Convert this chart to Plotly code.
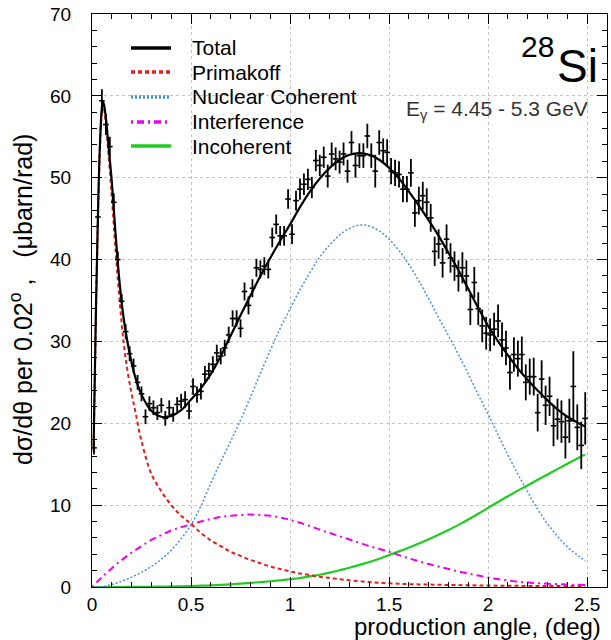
import plotly.graph_objects as go

# ---------------- data ----------------
bin_centers = [0.01, 0.03, 0.05, 0.07, 0.09, 0.11, 0.13, 0.15, 0.17, 0.19,
               0.21, 0.23, 0.25, 0.27, 0.29, 0.31, 0.33, 0.35, 0.37, 0.39,
               0.41, 0.43, 0.45, 0.47, 0.49, 0.51, 0.53, 0.55, 0.57, 0.59,
               0.61, 0.63, 0.65, 0.67, 0.69, 0.71, 0.73, 0.75, 0.77, 0.79,
               0.81, 0.83, 0.85, 0.87, 0.89, 0.91, 0.93, 0.95, 0.97, 0.99,
               1.01, 1.03, 1.05, 1.07, 1.09, 1.11, 1.13, 1.15, 1.17, 1.19,
               1.21, 1.23, 1.25, 1.27, 1.29, 1.31, 1.33, 1.35, 1.37, 1.39,
               1.41, 1.43, 1.45, 1.47, 1.49, 1.51, 1.53, 1.55, 1.57, 1.59,
               1.61, 1.63, 1.65, 1.67, 1.69, 1.71, 1.73, 1.75, 1.77, 1.79,
               1.81, 1.83, 1.85, 1.87, 1.89, 1.91, 1.93, 1.95, 1.97, 1.99,
               2.01, 2.03, 2.05, 2.07, 2.09, 2.11, 2.13, 2.15, 2.17, 2.19,
               2.21, 2.23, 2.25, 2.27, 2.29, 2.31, 2.33, 2.35, 2.37, 2.39,
               2.41, 2.43, 2.45, 2.47, 2.49]

measured = [17.0, 45.2, 59.4, 56.5, 53.8, 47.0, 40.0, 34.9, 31.2, 28.5,
            27.0, 25.0, 23.6, 20.8, 22.4, 21.9, 21.3, 22.2, 20.6, 21.9,
            21.1, 22.3, 22.7, 22.9, 21.5, 24.5, 23.5, 23.9, 26.0, 26.4,
            27.2, 28.6, 28.2, 29.2, 30.8, 32.8, 32.8, 31.6, 36.1, 34.4,
            36.5, 39.0, 38.8, 39.2, 38.8, 42.7, 44.3, 42.9, 42.9, 47.4,
            43.1, 47.2, 48.6, 49.2, 49.8, 48.8, 52.1, 51.5, 52.5, 50.2,
            52.9, 52.3, 51.9, 52.9, 50.8, 54.3, 51.5, 52.7, 52.7, 55.1,
            52.7, 50.8, 54.3, 53.3, 53.1, 50.8, 50.6, 50.4, 48.6, 48.6,
            50.6, 45.7, 47.2, 47.8, 47.0, 45.1, 41.0, 41.9, 39.6, 42.5,
            40.2, 39.2, 38.0, 39.0, 38.0, 33.9, 37.2, 34.0, 31.9, 31.0,
            30.8, 31.5, 32.5, 30.2, 29.2, 26.2, 28.4, 27.9, 28.4, 25.0,
            25.7, 25.7, 21.3, 25.4, 22.2, 23.3, 19.7, 20.5, 20.2, 18.3,
            20.3, 24.5, 19.5, 17.3, 20.6]

measured_err = [0.8, 1.2, 1.4, 1.3, 1.2, 1.1, 1.0, 0.9, 0.9, 0.9,
                0.9, 0.9, 0.9, 0.9, 0.9, 0.9, 0.9, 0.9, 0.9, 0.9,
                0.9, 0.9, 0.9, 1.0, 1.0, 1.0, 1.0, 1.0, 1.0, 1.0,
                1.0, 1.0, 1.0, 1.0, 1.0, 1.0, 1.0, 1.1, 1.1, 1.1,
                1.1, 1.1, 1.1, 1.1, 1.1, 1.2, 1.2, 1.2, 1.2, 1.2,
                1.2, 1.2, 1.3, 1.3, 1.3, 1.3, 1.3, 1.3, 1.3, 1.4,
                1.4, 1.4, 1.4, 1.4, 1.4, 1.4, 1.5, 1.5, 1.5, 1.5,
                1.5, 2.0, 1.5, 1.5, 1.6, 1.6, 1.6, 1.6, 1.6, 1.6,
                1.7, 1.7, 1.7, 1.7, 1.7, 1.7, 1.8, 1.8, 1.8, 1.8,
                1.8, 1.8, 1.9, 1.9, 1.9, 1.9, 1.9, 2.0, 2.0, 2.0,
                2.0, 2.0, 2.0, 2.1, 2.1, 2.1, 2.1, 2.2, 2.2, 2.2,
                2.2, 2.3, 2.3, 2.3, 2.4, 2.4, 2.5, 2.5, 2.6, 2.6,
                2.7, 4.3, 2.8, 2.9, 3.2]

# fit curves (Total and Primakoff share a finer grid near the peak)
peak_grid = [0.008, 0.02, 0.03, 0.04, 0.05, 0.055, 0.06, 0.07, 0.08, 0.09,
             0.10, 0.12, 0.14, 0.16, 0.18, 0.20, 0.22, 0.25, 0.30, 0.35,
             0.40, 0.45, 0.50, 0.55, 0.60, 0.65, 0.70, 0.75, 0.80, 0.85,
             0.90, 0.95, 1.00, 1.05, 1.10, 1.15, 1.20, 1.25, 1.30, 1.35,
             1.40, 1.45, 1.50, 1.55, 1.60, 1.65, 1.70, 1.75, 1.80, 1.85,
             1.90, 1.95, 2.00, 2.05, 2.10, 2.15, 2.20, 2.25, 2.30, 2.35,
             2.40, 2.45, 2.49]

total_fit = [17.0, 34.0, 45.5, 54.0, 58.6, 59.3, 59.0, 57.3, 54.8, 52.2,
             49.5, 42.8, 37.0, 32.8, 29.8, 27.4, 25.5, 23.5, 21.5, 20.8,
             20.9, 21.6, 22.9, 24.3, 26.0, 28.2, 30.7, 33.2, 35.6, 38.0,
             40.2, 42.3, 44.3, 46.4, 48.3, 49.9, 51.2, 52.2, 52.8, 53.0,
             52.8, 52.2, 51.2, 49.9, 48.3, 46.6, 44.8, 42.9, 40.8, 38.7,
             36.4, 34.1, 31.9, 30.0, 28.3, 26.7, 25.3, 24.0, 22.8, 21.7,
             20.8, 20.1, 19.6]

primakoff = [16.5, 33.5, 45.0, 53.5, 58.2, 58.8, 58.5, 56.5, 53.8, 50.8,
             47.6, 40.8, 34.8, 29.8, 26.3, 23.6, 21.3, 17.8, 13.8, 11.7,
             10.0, 8.7, 7.7, 6.6, 5.7, 5.0, 4.3, 3.8, 3.3, 2.9,
             2.5, 2.2, 1.9, 1.65, 1.45, 1.25, 1.1, 0.95, 0.82, 0.7,
             0.6, 0.52, 0.45, 0.4, 0.35, 0.32, 0.3, 0.27, 0.25, 0.23,
             0.21, 0.19, 0.18, 0.16, 0.15, 0.14, 0.13, 0.12, 0.12, 0.11,
             0.1, 0.1, 0.1]

comp_grid = [0.00, 0.05, 0.10, 0.15, 0.20, 0.25, 0.30, 0.35, 0.40, 0.45,
             0.50, 0.55, 0.60, 0.65, 0.70, 0.75, 0.80, 0.85, 0.90, 0.95,
             1.00, 1.05, 1.10, 1.15, 1.20, 1.25, 1.30, 1.35, 1.40, 1.45,
             1.50, 1.55, 1.60, 1.65, 1.70, 1.75, 1.80, 1.85, 1.90, 1.95,
             2.00, 2.05, 2.10, 2.15, 2.20, 2.25, 2.30, 2.35, 2.40, 2.45,
             2.49]

nuclear_coherent = [0.0, 0.05, 0.3, 0.7, 1.2, 1.8, 2.5, 3.4, 4.5, 5.9,
                    7.6, 9.9, 12.7, 15.3, 17.8, 20.4, 23.2, 26.1, 28.9, 31.6,
                    34.0, 36.3, 38.4, 40.3, 41.8, 43.0, 43.8, 44.2, 44.1, 43.5,
                    42.5, 41.1, 39.4, 37.4, 35.2, 32.9, 30.7, 28.4, 26.0, 23.5,
                    21.1, 18.6, 16.1, 13.8, 11.6, 9.5, 7.7, 6.2, 4.9, 3.9,
                    3.2]

interference = [0.0, 1.2, 2.3, 3.3, 4.2, 5.0, 5.75, 6.35, 6.9, 7.3,
                7.65, 8.0, 8.3, 8.55, 8.7, 8.8, 8.85, 8.8, 8.7, 8.5,
                8.2, 7.85, 7.45, 7.0, 6.6, 6.2, 5.8, 5.4, 5.0, 4.65,
                4.3, 3.9, 3.5, 3.15, 2.8, 2.5, 2.2, 1.9, 1.65, 1.4,
                1.15, 0.95, 0.8, 0.65, 0.55, 0.47, 0.4, 0.35, 0.3, 0.27,
                0.25]

incoherent = [0.0, 0.0, 0.0, 0.0, 0.01, 0.02, 0.03, 0.05, 0.07, 0.09,
              0.12, 0.16, 0.2, 0.26, 0.33, 0.41, 0.5, 0.6, 0.7, 0.82,
              0.95, 1.1, 1.3, 1.5, 1.75, 2.05, 2.35, 2.7, 3.05, 3.45,
              3.9, 4.35, 4.82, 5.32, 5.84, 6.39, 6.97, 7.59, 8.25, 8.95,
              9.67, 10.39, 11.09, 11.77, 12.43, 13.1, 13.75, 14.4, 15.05, 15.7,
              16.2]

x_tick_vals = [0, 0.5, 1, 1.5, 2, 2.5]
x_tick_text = ["0", "0.5", "1", "1.5", "2", "2.5"]
y_tick_vals = [0, 10, 20, 30, 40, 50, 60, 70]
y_tick_text = ["0", "10", "20", "30", "40", "50", "60", "70"]

legend_names = ["Total", "Primakoff", "Nuclear Coherent", "Interference", "Incoherent"]

# ---------------- styling ----------------
FONT = "Liberation Sans, Arial, Helvetica, sans-serif"
W, H = 611, 640
ML, MR, MT, MB = 92, 4, 14, 53
PW, PH = W - ML - MR, H - MT - MB

def px(xp):
    return (xp - ML) / PW

def py(yp):
    return (H - MB - yp) / PH

C_TOTAL = "#000000"
C_PRIM = "#e0211b"
C_NUC = "#4a90e2"
C_INT = "#ee00ee"
C_INC = "#1fcc1f"

styles = {
    "Total": dict(color=C_TOTAL, width=2.2, dash="solid"),
    "Primakoff": dict(color=C_PRIM, width=2.0, dash="4px,3px"),
    "Nuclear Coherent": dict(color=C_NUC, width=1.5, dash="2px,2px"),
    "Interference": dict(color=C_INT, width=2.0, dash="2px,4px,7px,4px"),
    "Incoherent": dict(color=C_INC, width=2.2, dash="solid"),
}

fig = go.Figure()

fig.add_trace(go.Scatter(x=comp_grid, y=incoherent, mode="lines", line_shape="spline",
                         line=styles["Incoherent"], name="Incoherent", showlegend=False,
                         hoverinfo="skip"))
fig.add_trace(go.Scatter(x=comp_grid, y=interference, mode="lines", line_shape="spline",
                         line=styles["Interference"], name="Interference", showlegend=False,
                         hoverinfo="skip"))
fig.add_trace(go.Scatter(x=comp_grid, y=nuclear_coherent, mode="lines", line_shape="spline",
                         line=styles["Nuclear Coherent"], name="Nuclear Coherent",
                         showlegend=False, hoverinfo="skip"))
fig.add_trace(go.Scatter(x=peak_grid, y=primakoff, mode="lines", line_shape="spline",
                         line=styles["Primakoff"], name="Primakoff", showlegend=False,
                         hoverinfo="skip"))
fig.add_trace(go.Scatter(x=bin_centers, y=measured, mode="markers", name="data",
                         marker=dict(symbol="line-ew-open", size=4, color="black",
                                     line=dict(color="black", width=1.6)),
                         error_y=dict(type="data", array=measured_err, color="black",
                                      thickness=1.8, width=0),
                         showlegend=False))
fig.add_trace(go.Scatter(x=peak_grid, y=total_fit, mode="lines", line_shape="spline",
                         line=styles["Total"], name="Total", showlegend=False))

axis_common = dict(
    showline=True, linecolor="black", linewidth=1, mirror="ticks",
    ticks="inside", tickcolor="black", tickwidth=1,
    showgrid=True, gridcolor="#c4c4c4", gridwidth=1, griddash="dot",
    zeroline=False,
    tickfont=dict(family=FONT, size=19, color="black"),
)

fig.update_xaxes(range=[0, 2.6], tickvals=x_tick_vals, ticktext=x_tick_text,
                 ticklen=10,
                 minor=dict(dtick=0.1, tick0=0, ticks="inside", ticklen=5,
                            tickcolor="black", showgrid=False),
                 **axis_common)
fig.update_yaxes(range=[0, 70], tickvals=y_tick_vals, ticktext=y_tick_text,
                 ticklen=10, ticklabelstandoff=16,
                 minor=dict(dtick=2, tick0=0, ticks="inside", ticklen=5,
                            tickcolor="black", showgrid=False),
                 **axis_common)

annotations = []
shapes = []

# manual legend
legend_rows = [48, 72, 97, 122, 146]
for name, row in zip(legend_names, legend_rows):
    st = styles[name]
    shapes.append(dict(type="line", xref="paper", yref="paper",
                       x0=px(131), x1=px(171), y0=py(row), y1=py(row),
                       line=dict(color=st["color"], width=3.5, dash=st["dash"])))
    annotations.append(dict(xref="paper", yref="paper", x=px(190), y=py(row),
                            xanchor="left", yanchor="middle", showarrow=False,
                            text=name, font=dict(family=FONT, size=21, color="black")))

# nucleus label
annotations.append(dict(xref="paper", yref="paper", x=px(600), y=py(66),
                        xanchor="right", yanchor="middle", showarrow=False,
                        text="Si", font=dict(family=FONT, size=46, color="black")))
annotations.append(dict(xref="paper", yref="paper", x=px(556), y=py(46),
                        xanchor="right", yanchor="middle", showarrow=False,
                        text="28", font=dict(family=FONT, size=30, color="black")))
annotations.append(dict(xref="paper", yref="paper", x=px(590), y=py(110),
                        xanchor="right", yanchor="middle", showarrow=False,
                        text="E<sub>γ</sub> = 4.45 - 5.3 GeV",
                        font=dict(family=FONT, size=21, color="#333333")))

# axis titles
annotations.append(dict(xref="paper", yref="paper", x=px(603), y=py(626),
                        xanchor="right", yanchor="middle", showarrow=False,
                        text="production angle, (deg)",
                        font=dict(family=FONT, size=24, color="black")))
annotations.append(dict(xref="paper", yref="paper", x=px(21), y=py(300),
                        xanchor="center", yanchor="middle", showarrow=False,
                        textangle=-90,
                        text="dσ/dθ per 0.02<sup>o</sup>\u00a0,\u00a0\u00a0\u00a0(μbarn/rad)",
                        font=dict(family=FONT, size=25, color="black")))

fig.update_layout(
    width=W, height=H,
    margin=dict(l=ML, r=MR, t=MT, b=MB, pad=0),
    paper_bgcolor="white", plot_bgcolor="white",
    showlegend=False,
    annotations=annotations,
    shapes=shapes,
    font=dict(family=FONT, color="black"),
)

fig.write_html("out.html",
               config={"displayModeBar": False, "staticPlot": True},
               post_script="document.body.style.margin='0px';"
                           "document.body.style.overflow='hidden';")
